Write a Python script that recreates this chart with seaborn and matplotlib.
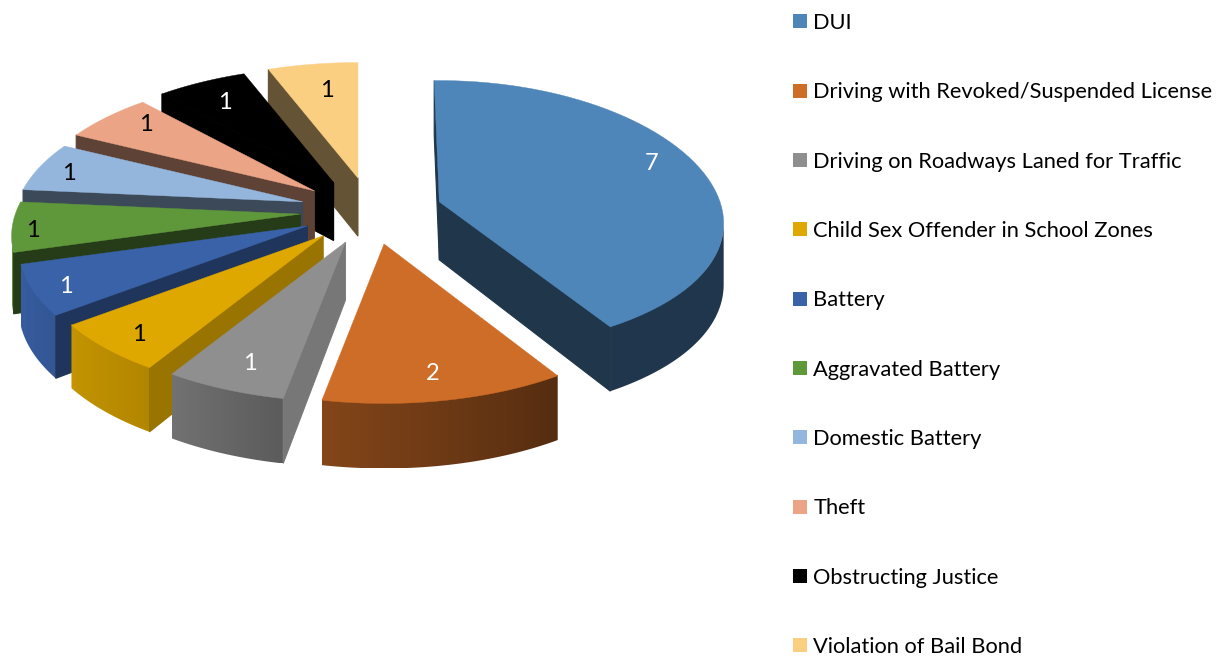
import numpy as np
import matplotlib
matplotlib.use("Agg")
import matplotlib.pyplot as plt
from matplotlib.patches import Patch, Polygon
import seaborn as sns

categories = ["DUI", "Driving with Revoked/Suspended License", "Driving on Roadways Laned for Traffic",
              "Child Sex Offender in School Zones", "Battery", "Aggravated Battery", "Domestic Battery",
              "Theft", "Obstructing Justice", "Violation of Bail Bond"]
counts = [7, 2, 1, 1, 1, 1, 1, 1, 1, 1]
slice_colors = ["#4F86BA", "#CE6D28", "#8F8F8F", "#DFA800", "#3A62A9",
                "#5F973B", "#94B6DD", "#EBA485", "#000000", "#FBCF82"]
label_colors = ["white", "white", "white", "black", "white", "black", "black", "black", "white", "black"]

# projection of the tilted pie, in pixels
CX, CY = 371, 211
RX, RY = 285, 134
PERSP = 0.16
PERSP_FIRST_Y = 0.105  # the big slice is flatter at the front
FIRST_X_SCALE = 0.985
FIRST_LEAD = 1.2  # its left edge leans slightly, which shows the inner wall
EXPLODE_X, EXPLODE_Y = 71, 33.5
APEX_DEPTH = 58
RIM_VISIBLE = (99, 261)
LABEL_DROP = 2.5

# how far out along the slice each count label sits
label_frac_x = [.82, .79, .785, .845, .88, .93, .89, .81, .82, .69]
label_frac_y = [1.15, .81, .81, .86, .9, 1.1, .89, .93, .82, .79]


def rim_point(theta, persp_y=PERSP, x_scale=1.0):
    t = np.radians(theta)
    return x_scale * RX * np.sin(t) / (1 + PERSP * np.cos(t)), -RY * np.cos(t) / (1 + persp_y * np.cos(t))


def rim_depth(theta):
    return 60 - 5 * np.cos(np.radians(theta))


def shade(color, f):
    return np.array(matplotlib.colors.to_rgb(color)) * f


def rim_factor(theta):
    return np.interp(theta, [148, 190.6, 212, 233, 254, 275], [.41, .64, .8, .88, .95, 1])


def wall_factor(theta):
    if theta < 180:
        return .4
    return np.interp(theta, [190.6, 212, 233, 254], [.83, .69, .54, .4])


sns.set_theme(style="white")
plt.rcParams['font.family'] = ['Lato', 'DejaVu Sans']

fig = plt.figure(figsize=(12.21, 6.56), dpi=100)
ax = fig.add_axes([0, 0, 1, 1])
ax.axis("off")

palette = sns.color_palette(slice_colors)
edges = np.concatenate([[0], np.cumsum(counts)]) / sum(counts) * 360

# back slices first, so each one overlaps the one behind it
z = 1
for i in reversed(range(len(counts))):
    start, end = edges[i], edges[i + 1]
    mid_deg = (start + end) / 2
    mid = np.radians(mid_deg)
    px, py = CX + EXPLODE_X * np.sin(mid), CY - EXPLODE_Y * np.cos(mid)
    color = palette[i]
    persp_y = PERSP_FIRST_Y if i == 0 else PERSP
    x_scale = FIRST_X_SCALE if i == 0 else 1.0
    if i == 0:
        start -= FIRST_LEAD

    # outer wall with a gradient clipped to its outline
    lo, hi = max(start, RIM_VISIBLE[0]), min(end, RIM_VISIBLE[1])
    if lo < hi:
        ts = np.linspace(lo, hi, 60)
        rx = np.array([rim_point(t, persp_y, x_scale)[0] for t in ts]) + px
        ry = np.array([rim_point(t, persp_y, x_scale)[1] for t in ts]) + py
        rd = rim_depth(ts)
        outline = np.vstack([np.column_stack([rx, ry - 1]), np.column_stack([rx, ry + rd])[::-1]])
        patch = Polygon(outline, closed=True, fc="none", ec="none", zorder=z)
        ax.add_patch(patch)
        order = np.argsort(rx)
        xgrid = np.linspace(rx.min(), rx.max(), 256)
        f = np.interp(xgrid, rx[order], rim_factor(ts)[order])
        grad = np.clip(np.outer(f, color)[None, :, :], 0, 1)
        im = ax.imshow(grad, extent=[rx.min(), rx.max(), outline[:, 1].max(), outline[:, 1].min()],
                       aspect="auto", interpolation="bilinear", zorder=z)
        im.set_clip_path(patch)
        z += 1

    # radial walls, only those facing the viewer
    visible = []
    if np.sin(np.radians(end)) > 1e-9:
        visible.append(end)
    if np.sin(np.radians(start)) < 1e-9:
        visible.append(start)
    for theta in visible:
        dx, dy = rim_point(theta, persp_y, x_scale)
        wall = [(px, py), (px + dx, py + dy), (px + dx, py + dy + rim_depth(theta)), (px, py + APEX_DEPTH)]
        c = shade(color, wall_factor(theta))
        ax.add_patch(Polygon(wall, closed=True, fc=c, ec=c, lw=0.8, zorder=z))
        z += 1

    # top face
    thetas = np.linspace(start, end, 60)
    top = [(px, py)] + [(px + rim_point(t, persp_y, x_scale)[0], py + rim_point(t, persp_y, x_scale)[1])
                        for t in thetas]
    ax.add_patch(Polygon(top, closed=True, fc=color, ec=color, lw=0.3, zorder=z))
    z += 1

    # count label
    lx, ly = rim_point(mid_deg, persp_y, x_scale)
    ax.text(px + label_frac_x[i] * lx, py + label_frac_y[i] * ly + LABEL_DROP, str(counts[i]),
            color=label_colors[i], fontsize=17, ha="center", va="center", zorder=100)

ax.set_xlim(0, 1221)
ax.set_ylim(656, 0)

handles = [Patch(facecolor=c, edgecolor="none", label=name) for c, name in zip(palette, categories)]
ax.legend(handles=handles, loc="upper left", bbox_to_anchor=(793 / 1221, 1 - 13 / 656), frameon=False,
          fontsize=15.75, handlelength=0.62, handleheight=0.62, handletextpad=0.3,
          labelspacing=2.255, borderpad=0, borderaxespad=0, labelcolor="black")

fig.savefig("out.png", dpi=100)
plt.close(fig)
